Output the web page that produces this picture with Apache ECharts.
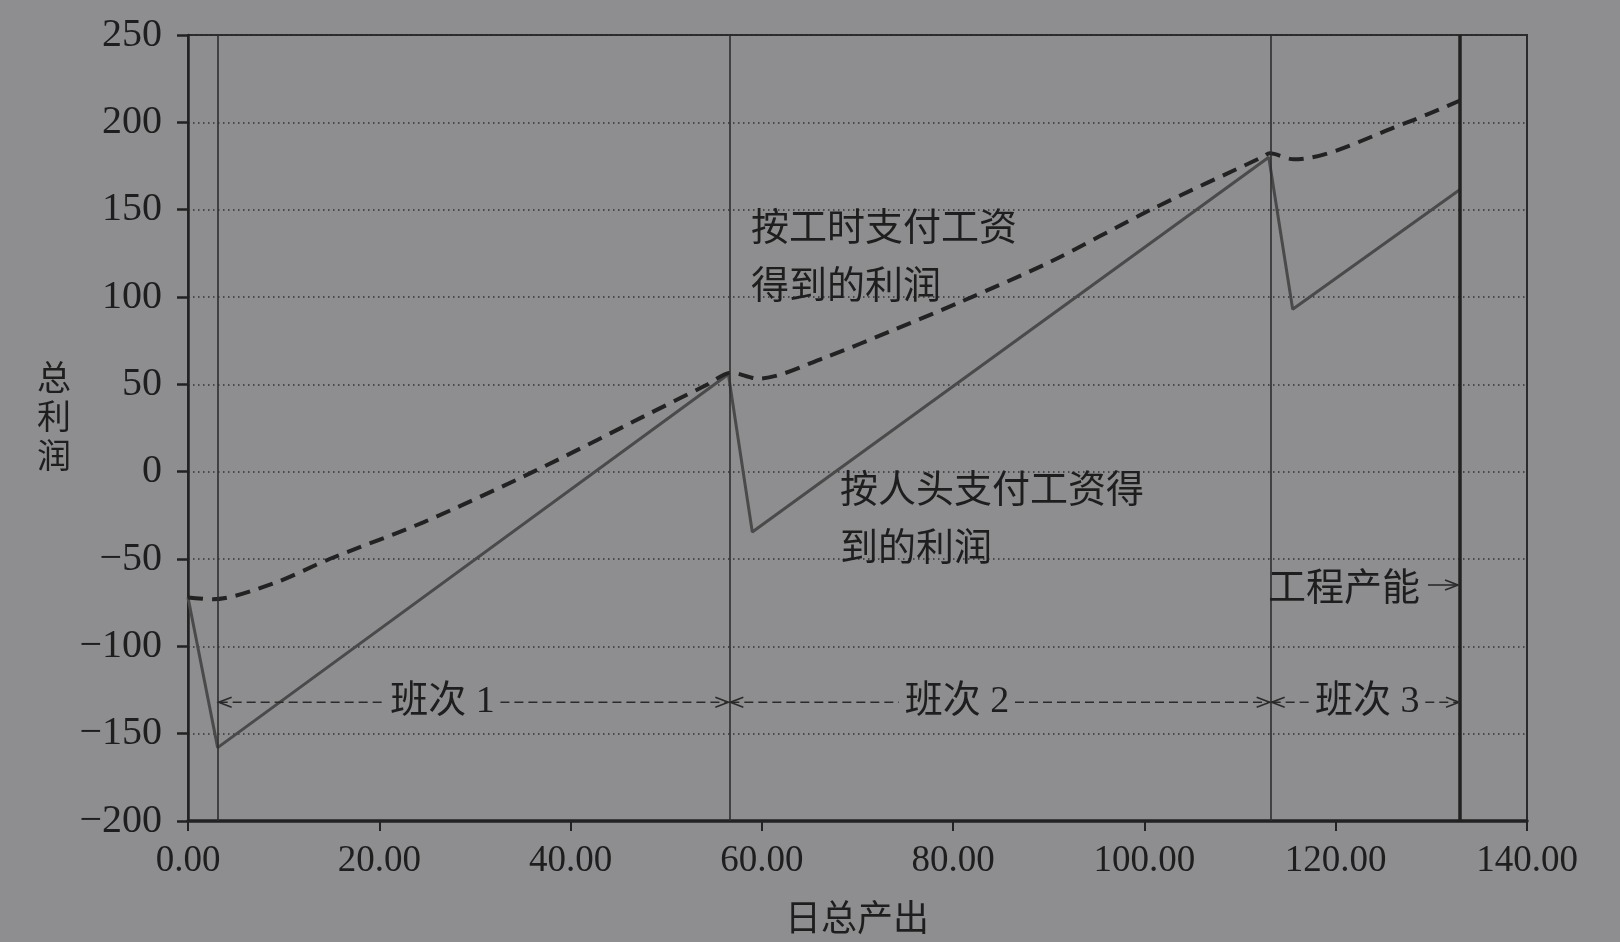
<!DOCTYPE html>
<html><head><meta charset="utf-8">
<script src="https://cdn.jsdelivr.net/npm/echarts@6/dist/echarts.min.js"></script>
<style>html,body{margin:0;padding:0;background:#8e8e90;}#c{width:1620px;height:942px;}</style>
</head><body><div id="c"></div>
<script>
// ---- data ----
const perHeadX = [0, 3.1, 56.5, 59.0, 113.0, 115.5, 133.0];
const perHeadY = [-72, -158, 55.8, -34.5, 180, 93, 161.5];
const perHourX = [0, 2.6, 8.9, 14.8, 24.6, 36.5, 47.6, 54.2, 56.8, 59.6, 66.8, 73.7, 80.7, 90.1, 100.6, 112.4, 113.1, 115.6, 127.4, 133];
const perHourY = [-72, -73, -64, -50, -29, 1, 31.5, 49.6, 56.7, 53.3, 65.8, 81, 97, 120, 149.8, 180.3, 182.3, 178.8, 199.8, 212.5];
const shiftBounds = [3.1, 56.6, 113.2, 133.0];
const capacityX = 133.0;
const shiftLabels = ['班次 1', '班次 2', '班次 3'];
const shiftLabelX = [26.6, 80.4, 123.3];
const shiftArrowY = -132;
const xAxisName = '日总产出';
const yAxisName = '总利润';
const noteHour = ['按工时支付工资', '得到的利润'];
const noteHead = ['按人头支付工资得', '到的利润'];
const noteCap = '工程产能';
const xRange = [0, 140, 20];
const yRange = [-200, 250, 50];

const ink = '#1e1e1e';
const serif = "'Liberation Serif','Noto Sans CJK SC',serif";
const cjk = "'Noto Sans CJK SC',sans-serif";

const chart = echarts.init(document.getElementById('c'));
const option = {
  backgroundColor: '#8e8e90',
  animation: false,
  grid: { left: 188, right: 93, top: 35, bottom: 121, show: true, borderColor: '#2a2a2a', borderWidth: 2, backgroundColor: 'transparent' },
  xAxis: {
    type: 'value', min: xRange[0], max: xRange[1], interval: xRange[2],
    axisLine: { show: true, onZero: false, lineStyle: { color: '#222', width: 3.5 } },
    axisTick: { show: true, length: 10, lineStyle: { color: '#222', width: 2 } },
    axisLabel: { margin: 22, fontSize: 37, fontFamily: serif, color: ink, formatter: v => v.toFixed(2) },
    splitLine: { show: false }
  },
  yAxis: {
    type: 'value', min: yRange[0], max: yRange[1], interval: yRange[2],
    axisLine: { show: true, onZero: false, lineStyle: { color: '#222', width: 2.5 } },
    axisTick: { show: true, length: 11, lineStyle: { color: '#222', width: 2.5 } },
    axisLabel: { margin: 26, fontSize: 40, fontFamily: serif, color: ink, formatter: v => String(v).replace('-', '\u2212') },
    splitLine: { show: true, lineStyle: { color: '#333', width: 1.5, type: [1.5, 3.5] } }
  },
  series: [
    {
      type: 'line', data: perHeadX.map((x, i) => [x, perHeadY[i]]), symbol: 'none',
      lineStyle: { color: '#4a4a4a', width: 3 },
      markLine: {
        silent: true, symbol: 'none', label: { show: false },
        data: shiftBounds.map(x => ({ xAxis: x, lineStyle: { color: x === capacityX ? '#222' : '#2e2e2e', width: x === capacityX ? 3.5 : 1.6, type: 'solid' } }))
      },
      z: 3
    },
    {
      type: 'line', data: perHourX.map((x, i) => [x, perHourY[i]]), symbol: 'none', smooth: 0.3,
      lineStyle: { color: '#222', width: 4, type: [15, 9] }, z: 4
    }
  ]
};
chart.setOption(option);

const px = (x, y) => chart.convertToPixel({ gridIndex: 0 }, [x, y]);
const g = [];
const txt = (x, y, s, size, align, font) => g.push({ type: 'text', x, y, style: { text: s, fontSize: size, fontFamily: font || serif, fill: ink, align: align || 'left', verticalAlign: 'middle' }, z: 10 });
const seg = (x1, y1, x2, y2, dash, w) => g.push({ type: 'line', shape: { x1, y1, x2, y2 }, style: { stroke: '#2a2a2a', lineWidth: w || 1.6, lineDash: dash || null }, z: 10 });
const chev = (tipX, y, dir) => g.push({ type: 'polyline', shape: { points: [[tipX - dir * 13, y - 5], [tipX, y], [tipX - dir * 13, y + 5]] }, style: { stroke: '#2a2a2a', lineWidth: 1.6, fill: null }, z: 10 });

for (let i = 0; i < 3; i++) {
  const a = px(shiftBounds[i], shiftArrowY), b = px(shiftBounds[i + 1], shiftArrowY);
  const c = px(shiftLabelX[i], shiftArrowY);
  const y = a[1], half = 52, gap = 6;
  seg(a[0] + 1, y, c[0] - half - gap, y, [9, 5]);
  seg(c[0] + half + gap, y, b[0] - 1, y, [9, 5]);
  chev(a[0] + 1, y, -1);
  chev(b[0] - 1, y, 1);
  txt(c[0], y, shiftLabels[i], 38, 'center');
}
// notes
txt(751, 226, noteHour[0], 38, 'left', cjk);
txt(751, 284, noteHour[1], 38, 'left', cjk);
txt(840, 488, noteHead[0], 38, 'left', cjk);
txt(840, 546, noteHead[1], 38, 'left', cjk);
txt(1268, 586, noteCap, 38, 'left', cjk);
const cp = px(capacityX, 0);
seg(1428, 585, cp[0] - 2, 585, null, 1.6);
chev(cp[0] - 2, 585, 1);
// axis names
g.push({ type: 'text', x: 857, y: 917, style: { text: xAxisName, fontSize: 36, fontFamily: cjk, fill: ink, align: 'center', verticalAlign: 'middle' } });
g.push({ type: 'text', x: 54, y: 416, style: { text: yAxisName.split('').join('\n'), fontSize: 34, lineHeight: 39, fontFamily: cjk, fill: ink, align: 'center', verticalAlign: 'middle' } });
chart.setOption({ graphic: g });
</script></body></html>
